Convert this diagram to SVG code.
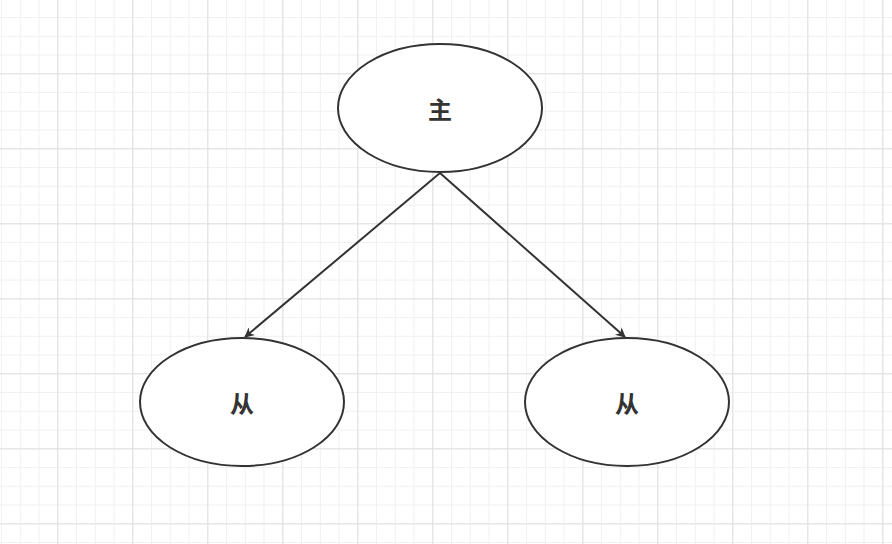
<svg xmlns="http://www.w3.org/2000/svg" width="892" height="544" viewBox="0 0 892 544">
<defs>
<pattern id="minor" x="1.05" y="-1.7" width="18.75" height="18.75" patternUnits="userSpaceOnUse"><path d="M0.5 0V18.75M0 0.5H18.75" stroke="#f0f0f0" stroke-width="1" fill="none"/></pattern>
<pattern id="major" x="-17.7" y="-1.7" width="75" height="75" patternUnits="userSpaceOnUse"><path d="M0.5 0V75M0 0.5H75" stroke="#e0e0e0" stroke-width="1" fill="none"/></pattern>
<marker id="arr" viewBox="0 0 10 10" refX="9" refY="5" markerWidth="10" markerHeight="10" markerUnits="userSpaceOnUse" orient="auto"><path d="M0 0L10 5L0 10L3 5Z" fill="#333"/></marker>
</defs>
<style>
.n{fill:#fff;stroke:#333;stroke-width:2}
.t{font-family:"Noto Sans CJK SC",sans-serif;font-size:24px;font-weight:bold;fill:#333;text-anchor:middle;dominant-baseline:central}
.c{stroke:#333;stroke-width:2;fill:none;marker-end:url(#arr)}
</style>
<rect width="892" height="544" fill="#fff"/>
<rect width="892" height="544" fill="url(#minor)"/>
<rect width="892" height="544" fill="url(#major)"/>
<g id="connectors">
<path class="c" d="M440 173L245 337"/>
<path class="c" d="M440 173L625 337"/>
</g>
<g id="master"><ellipse class="n" cx="440" cy="108" rx="102" ry="64"/><text class="t" x="440" y="108">主</text></g>
<g id="slave1"><ellipse class="n" cx="242" cy="402" rx="102" ry="64"/><text class="t" x="242" y="402">从</text></g>
<g id="slave2"><ellipse class="n" cx="627" cy="402" rx="102" ry="64"/><text class="t" x="627" y="402">从</text></g>
</svg>
